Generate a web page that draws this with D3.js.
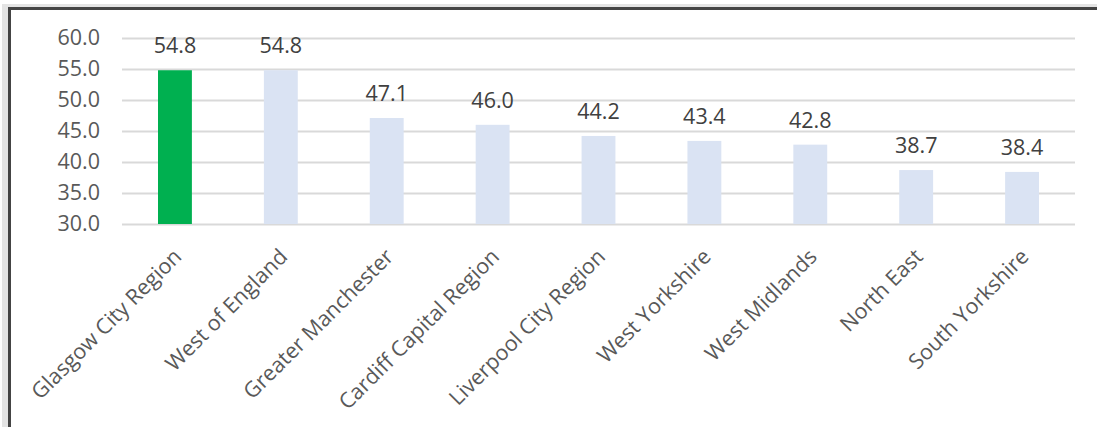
<!DOCTYPE html>
<html>
<head>
<meta charset="utf-8">
<script src="https://cdn.jsdelivr.net/npm/d3@7"></script>
<style>
  html, body { margin: 0; padding: 0; background: #ffffff; }
  svg { display: block; }
  text { font-family: "Open Sans", "Noto Sans", sans-serif; fill: #595959; }
</style>
</head>
<body>
<svg id="chart" width="1097" height="427"></svg>
<script>
// Regions and their scores
const regions = [
  "Glasgow City Region", "West of England", "Greater Manchester",
  "Cardiff Capital Region", "Liverpool City Region", "West Yorkshire",
  "West Midlands", "North East", "South Yorkshire"
];
const scores = [54.8, 54.8, 47.1, 46.0, 44.2, 43.4, 42.8, 38.7, 38.4];
const highlighted = ["Glasgow City Region"];
const yTicks = [30, 35, 40, 45, 50, 55, 60];

const svg = d3.select("#chart");
const W = 1097, H = 427;
const FONT = 21.5;

// Frame: soft outer strip with a dark rule on the top and left edges
svg.append("rect").attr("x", 0).attr("y", 0).attr("width", W).attr("height", H).attr("fill", "#ffffff");
svg.append("rect").attr("x", 2).attr("y", 4).attr("width", W).attr("height", 3).attr("fill", "#e4e4e4");
svg.append("rect").attr("x", 2).attr("y", 4).attr("width", 6).attr("height", H).attr("fill", "#e4e4e4");
svg.append("rect").attr("x", 8).attr("y", 7).attr("width", W).attr("height", 3).attr("fill", "#444444");
svg.append("rect").attr("x", 8).attr("y", 7).attr("width", 3).attr("height", H).attr("fill", "#444444");

const plot = { left: 122, right: 1075, top: 38, bottom: 224 };

const x = d3.scaleBand()
  .domain(regions)
  .range([plot.left, plot.right])
  .paddingInner(0.68)
  .paddingOuter(0.34);

const y = d3.scaleLinear()
  .domain([30, 60])
  .range([plot.bottom, plot.top]);

// Gridlines
svg.append("g")
  .selectAll("line")
  .data(yTicks)
  .join("line")
  .attr("x1", plot.left)
  .attr("x2", plot.right)
  .attr("y1", d => Math.round(y(d)) + 0.5)
  .attr("y2", d => Math.round(y(d)) + 0.5)
  .attr("stroke", "#d9d9d9")
  .attr("stroke-width", 2);

// Y axis labels
const yAxis = d3.axisLeft(y).tickValues(yTicks).tickFormat(d3.format(".1f")).tickSize(0).tickPadding(0);
const yg = svg.append("g").attr("transform", `translate(${plot.left - 22},0)`).call(yAxis);
yg.select(".domain").remove();
yg.selectAll("text")
  .attr("font-size", FONT)
  .attr("fill", "#595959")
  .style("font-family", "'Open Sans', 'Noto Sans', sans-serif");

// Bars
svg.append("g")
  .selectAll("rect")
  .data(regions)
  .join("rect")
  .attr("x", d => x(d))
  .attr("width", x.bandwidth())
  .attr("y", (d, i) => y(scores[i]))
  .attr("height", (d, i) => y(30) - y(scores[i]))
  .attr("fill", d => highlighted.includes(d) ? "#00b050" : "#dae3f3");

// Value labels
svg.append("g")
  .selectAll("text")
  .data(regions)
  .join("text")
  .attr("x", d => x(d) + x.bandwidth() / 2)
  .attr("y", (d, i) => y(scores[i]) - 17)
  .attr("text-anchor", "middle")
  .attr("font-size", FONT)
  .style("fill", "#404040")
  .text((d, i) => scores[i].toFixed(1));

// Category labels, rotated
const xAxis = d3.axisBottom(x).tickSize(0).tickPadding(0);
const xg = svg.append("g").attr("transform", `translate(0,${plot.bottom})`).call(xAxis);
xg.select(".domain").remove();
xg.selectAll("text")
  .attr("font-size", FONT)
  .attr("fill", "#595959")
  .style("font-family", "'Open Sans', 'Noto Sans', sans-serif")
  .attr("text-anchor", "end")
  .attr("dy", 0)
  .attr("y", 0)
  .attr("transform", "translate(8,34) rotate(-45)");
</script>
</body>
</html>
